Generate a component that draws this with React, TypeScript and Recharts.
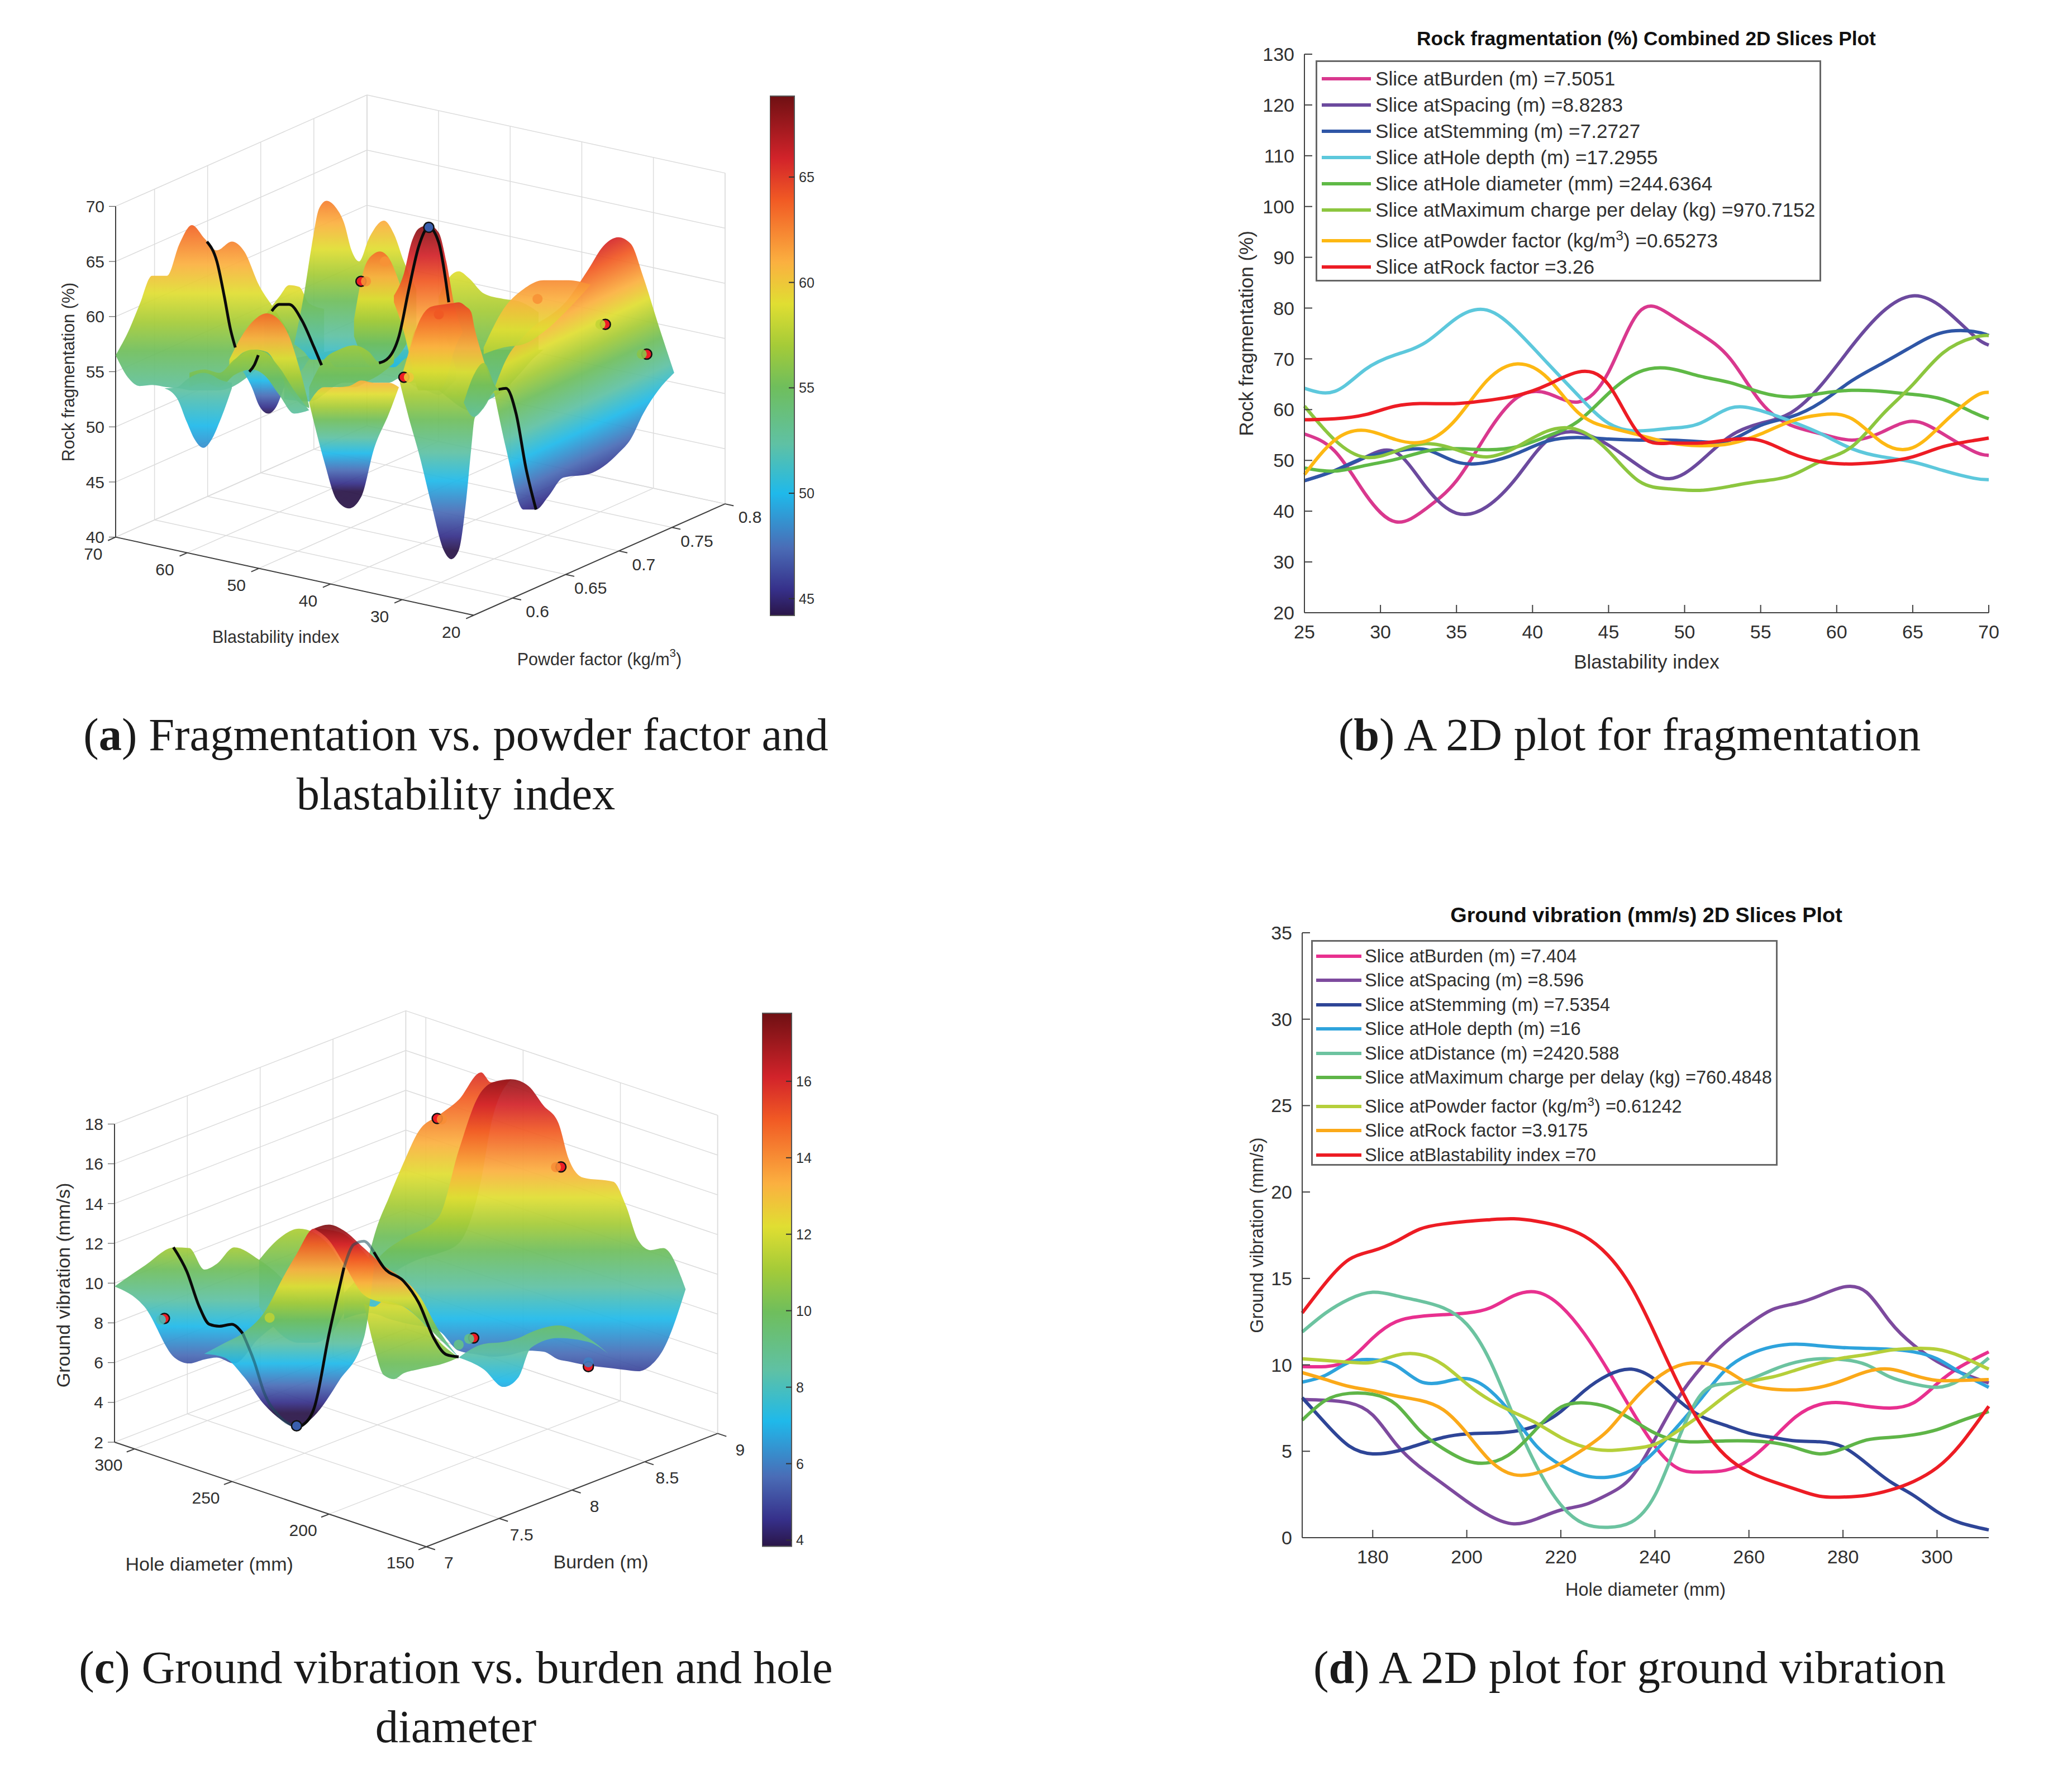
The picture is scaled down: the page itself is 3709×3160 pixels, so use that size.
import { Area, Bar, BarChart, ComposedChart, Legend, Line, LineChart, ReferenceDot, ReferenceLine, Scatter, XAxis, YAxis } from "recharts";

const SANS = '"Liberation Sans", Arial, sans-serif';
const SERIF = '"Liberation Serif", serif';
const AXIS_COLOR = "#404040";
const TEXT_COLOR = "#303030";

// ---- panel b: slices over blastability index ----
const bX = [25, 27, 29, 31, 33, 35, 37, 39, 41, 43, 45, 47, 49, 51, 53, 55, 57, 59, 61, 63, 65, 67, 69, 70];
const bBurden = [55.2, 51.8, 43.4, 37.9, 40.5, 46, 55.2, 62.4, 63.2, 61.5, 67.4, 79.2, 78.8, 75, 70, 61.5, 56.9, 55.2, 54, 55.6, 57.7, 55.2, 51.8, 51];
const bSpacing = [46, 48, 50.6, 51.6, 44.7, 39.6, 40.9, 46.8, 54, 55.5, 53, 48.9, 46.4, 49.7, 54.8, 57.3, 59.4, 64.9, 72.5, 79.2, 82.4, 80, 74.6, 72.7];
const bStemming = [46, 48, 50.6, 51.8, 52.1, 49.7, 49.6, 51.4, 53.8, 54.5, 54.2, 54, 54, 53.7, 54, 56.9, 58.6, 61.5, 65.7, 69.1, 72.5, 75.2, 75.4, 74.6];
const bHoleDepth = [64.2, 63.6, 67.9, 70.8, 73.3, 78, 79.6, 75.4, 69.1, 62.8, 57.3, 55.8, 56.3, 57.3, 60.3, 59.8, 57.7, 55.2, 52.3, 50.7, 49.7, 48, 46.5, 46.2];
const bHoleDiameter = [48.5, 47.9, 49, 50.2, 51.8, 52.3, 52.1, 52.7, 54.8, 57.7, 63.2, 67.4, 68.1, 66.6, 65.3, 63.4, 62.5, 63.2, 63.8, 63.6, 63, 62, 59.4, 58.2];
const bMaxCharge = [60.7, 54, 50.6, 51.8, 53.3, 52.1, 50.7, 52.7, 55.8, 56, 51.8, 45.9, 44.4, 44.1, 44.9, 45.9, 47, 49.9, 52.7, 59, 64.9, 71.2, 74.2, 74.6];
const bPowder = [47.2, 54, 55.9, 54.1, 53.8, 58.2, 65.7, 69, 66.2, 59.4, 56.5, 55, 53.5, 52.9, 53.3, 55.2, 57.7, 59, 58.2, 53.5, 52.5, 57.3, 62.4, 63.4];
const bRock = [58, 58.2, 59, 60.7, 61.2, 61.2, 61.8, 62.8, 64.9, 67.4, 64.9, 55.2, 53.4, 53.4, 54.1, 53.9, 51.4, 49.7, 49.3, 49.7, 50.7, 52.7, 53.9, 54.4];
const bSeries = [
  { name: "Slice atBurden (m) =7.5051", values: bBurden, color: "#D9388E" },
  { name: "Slice atSpacing (m) =8.8283", values: bSpacing, color: "#6C4A9E" },
  { name: "Slice atStemming (m) =7.2727", values: bStemming, color: "#2F56A6" },
  { name: "Slice atHole depth (m) =17.2955", values: bHoleDepth, color: "#5DC8DC" },
  { name: "Slice atHole diameter (mm) =244.6364", values: bHoleDiameter, color: "#5FB946" },
  { name: "Slice atMaximum charge per delay (kg) =970.7152", values: bMaxCharge, color: "#8CC63F" },
  { name: "Slice atPowder factor (kg/m3) =0.65273", values: bPowder, color: "#FDB813" },
  { name: "Slice atRock factor =3.26", values: bRock, color: "#ED1C24" },
];

// ---- panel d: slices over hole diameter ----
const dX = [165, 170, 175, 180, 185, 190, 195, 200, 205, 210, 215, 220, 225, 230, 235, 240, 245, 250, 255, 260, 265, 270, 275, 280, 285, 290, 295, 300, 305, 311];
const dBurden = [9.9, 9.9, 10.3, 11.55, 12.5, 12.8, 12.9, 13, 13.3, 14, 14.2, 13.4, 11.8, 9.7, 7.4, 5.3, 4, 3.8, 3.9, 4.5, 5.7, 7, 7.7, 7.8, 7.6, 7.5, 7.8, 8.9, 9.9, 10.75];
const dSpacing = [8, 7.95, 7.8, 7.1, 5.4, 4.1, 3.1, 2.1, 1.25, 0.8, 1.1, 1.6, 1.9, 2.5, 3.5, 5.7, 8.1, 9.9, 11.3, 12.35, 13.2, 13.55, 14, 14.5, 14.2, 12.5, 11.15, 10.2, 9.55, 8.95];
const dStemming = [8.1, 6.6, 5.3, 4.85, 5, 5.4, 5.8, 6, 6.05, 6.15, 6.5, 7.3, 8.5, 9.4, 9.75, 9.15, 7.95, 7, 6.5, 6.05, 5.8, 5.6, 5.55, 5.25, 4.3, 3.25, 2.45, 1.5, 0.85, 0.45];
const dHoleDepth = [9, 9.4, 10.15, 10.3, 9.95, 9.05, 9, 9.2, 8.5, 7, 5.25, 4.2, 3.6, 3.5, 3.9, 5, 6.5, 8.1, 9.7, 10.6, 11.05, 11.2, 11.1, 11, 10.95, 10.9, 10.75, 10.35, 9.55, 8.7];
const dDistance = [11.9, 13, 13.8, 14.2, 14, 13.7, 13.3, 12.35, 10.2, 7, 4.05, 1.9, 0.8, 0.6, 0.9, 2.45, 5.7, 8.35, 8.9, 9.15, 9.7, 10.15, 10.35, 10.3, 10, 9.3, 8.9, 8.7, 9.15, 10.4];
const dMaxCharge = [6.8, 7.95, 8.35, 8.3, 7.7, 6.2, 5.15, 4.45, 4.35, 5, 6.35, 7.55, 7.8, 7.55, 6.85, 6.05, 5.6, 5.55, 5.6, 5.6, 5.5, 5.2, 4.85, 5.15, 5.65, 5.8, 5.95, 6.25, 6.75, 7.3];
const dPowder = [10.35, 10.25, 10.15, 10.15, 10.55, 10.6, 10, 8.9, 7.95, 7.25, 6.6, 5.8, 5.25, 5.05, 5.15, 5.4, 6.2, 7.15, 8.2, 9, 9.3, 9.7, 10.1, 10.4, 10.6, 10.85, 10.95, 10.9, 10.5, 9.75];
const dRock = [9.55, 9.15, 8.75, 8.5, 8.2, 7.95, 7.4, 6.05, 4.45, 3.65, 3.75, 4.3, 5.15, 6.2, 7.8, 9.15, 9.95, 10.1, 9.7, 8.9, 8.6, 8.55, 8.7, 9.1, 9.6, 9.75, 9.4, 9.1, 9.1, 9.15];
const dBlast = [13, 14.75, 16.1, 16.6, 17.15, 17.85, 18.15, 18.3, 18.4, 18.45, 18.3, 18, 17.45, 16.35, 14.5, 11.8, 8.9, 6.45, 4.75, 3.8, 3.25, 2.8, 2.4, 2.35, 2.45, 2.75, 3.25, 4.05, 5.4, 7.6];
const dSeries = [
  { name: "Slice atBurden (m) =7.404", values: dBurden, color: "#E8308F" },
  { name: "Slice atSpacing (m) =8.596", values: dSpacing, color: "#7D4A9E" },
  { name: "Slice atStemming (m) =7.5354", values: dStemming, color: "#2E4597" },
  { name: "Slice atHole depth (m) =16", values: dHoleDepth, color: "#2EA3DC" },
  { name: "Slice atDistance (m) =2420.588", values: dDistance, color: "#6CC3A0" },
  { name: "Slice atMaximum charge per delay (kg) =760.4848", values: dMaxCharge, color: "#5FB548" },
  { name: "Slice atPowder factor (kg/m3) =0.61242", values: dPowder, color: "#B5CF3A" },
  { name: "Slice atRock factor =3.9175", values: dRock, color: "#FBA919" },
  { name: "Slice atBlastability index =70", values: dBlast, color: "#ED1C24" },
];

// ---- shared colour map (position on the colour bar -> colour) ----
const mapStops: [number, string][] = [
  [0, "#2a1548"], [0.05, "#36308a"], [0.13, "#4a6cb6"], [0.235, "#1fb9ea"], [0.33, "#5fc1a4"], [0.44, "#6fbe5c"],
  [0.52, "#a5cb38"], [0.6, "#e0de32"], [0.68, "#fbb040"], [0.8, "#f15a24"], [0.88, "#d2232a"], [1, "#6f1013"],
];
const HOT = 0.8;
const COLD = 0.235;

function mapColor(f: number) {
  const rgb = (h: string) => [1, 3, 5].map((i) => parseInt(h.slice(i, i + 2), 16));
  for (let i = 1; i < mapStops.length; i++) {
    if (f <= mapStops[i][0]) {
      const t = (f - mapStops[i - 1][0]) / (mapStops[i][0] - mapStops[i - 1][0]);
      const a = rgb(mapStops[i - 1][1]);
      const b = rgb(mapStops[i][1]);
      return `rgb(${a.map((v, k) => Math.round(v + (b[k] - v) * Math.max(t, 0))).join(",")})`;
    }
  }
  return mapStops[mapStops.length - 1][1];
}

// ---- panel a: surface sheets, back to front. x is the view position, heights in axis units ----
const aWallX = [142, 170, 190, 215, 245, 270, 295, 320, 345, 375, 400, 430, 460, 490];
const aWallTop = [56.5, 58.9, 61.1, 63.7, 63.7, 66.6, 68.3, 67.1, 66, 66.8, 65.9, 62.8, 60.7, 58.6];
const aWallBot = [56.5, 54.3, 53.7, 53.8, 53.6, 53.5, 53.3, 53.3, 53.3, 53.6, 54.3, 55.4, 56.8, 58.6];
const aPitX = [395, 415, 430, 448, 465, 480, 497];
const aPitTop = [56.1, 56.8, 57.2, 57.2, 57.2, 56.8, 56.1];
const aPitBot = [55.2, 53.6, 51.9, 51.2, 51.9, 53.6, 55.4];
const aBackX = [480, 530, 600, 690, 712, 730, 800, 862, 890, 905, 1000];
const aBackTop = [56, 56.5, 57, 57, 57, 57, 57, 57, 57, 57, 57];
const aBackBot = [52.5, 52.3, 54, 54, 54.4, 54, 54, 52, 53, 53.5, 57];
const aRidgeX = [440, 470, 490, 510, 530, 560];
const aRidgeTop = [60, 61.8, 62.85, 62.7, 61.2, 60.7];
const aRidgeBot = [56.1, 55.4, 55.4, 55, 56.1, 56.8];
const aTallX = [500, 520, 535, 550, 565, 585, 600, 615, 630, 650, 680, 700, 720, 745];
const aTallTop = [57.5, 62.1, 66.4, 69.8, 70.5, 69.8, 68.5, 66, 65, 67.1, 68.7, 67.5, 65, 62.5];
const aTallBot = [57.5, 56.8, 56.1, 56.1, 56.1, 55.4, 55.4, 55.4, 55.4, 55.4, 55.4, 55.4, 56.1, 56.8];
const aMidX = [790, 810, 830, 850, 880, 920, 950, 990];
const aMidTop = [61.8, 63.5, 64.1, 63.5, 62.1, 61.6, 61.4, 60.4];
const aMidBot = [53.3, 52.6, 51.9, 51.5, 52.2, 53.3, 54.7, 56.8];
const aKnobX = [620, 640, 660, 672, 690, 710, 725];
const aKnobTop = [59.7, 64.3, 65.7, 65.9, 65.3, 63.2, 61.1];
const aKnobBot = [58.2, 56.1, 55.4, 55.4, 55.8, 56.5, 57.5];
const aWaveX = [530, 560, 590, 620, 650, 670, 700];
const aWaveTop = [53.6, 56.1, 57, 57.4, 56.8, 55.9, 56.8];
const aWaveBot = [52.2, 53.6, 53.6, 53.6, 54.2, 54.7, 55.8];
const aDarkX = [700, 720, 735, 750, 770, 790, 805, 820, 838];
const aDarkTop = [61.9, 63.9, 66.7, 68, 68.3, 67.6, 65, 61.3, 58.6];
const aDarkBot = [61.3, 58.6, 55.8, 53.3, 53.3, 53.3, 54.3, 56.8, 58.6];
const aBodyX = [900, 925, 960, 985, 1010, 1040, 1090, 1120, 1150, 1175, 1200, 1230, 1262];
const aBodyTop = [53.3, 56.1, 58.2, 59.3, 60, 61.1, 64.3, 66.4, 67.2, 66.6, 63.6, 59.3, 54.9];
const aBodyBot = [53.3, 48, 42.5, 42.5, 43.7, 45.4, 45.7, 46.4, 47.6, 48.9, 51.2, 53.3, 54.9];
const aFlapX = [880, 920, 960, 1000, 1050, 1095];
const aFlapTop = [57.2, 60.7, 62.5, 63.3, 63.3, 62.9];
const aFlapBot = [56.6, 57.2, 57.5, 58.6, 60.7, 62.9];
const aBowlX = [530, 560, 585, 610, 635, 660, 690, 710];
const aBowlTop = [52.2, 53.6, 53.6, 53.7, 54.2, 54, 54, 53.6];
const aBowlBot = [52.2, 46.9, 43.4, 42.6, 43.7, 48, 51.2, 53.6];
const aFrontX = [712, 730, 750, 775, 800, 815, 830, 845, 855, 862, 875, 890, 905];
const aFrontTop = [54, 56.8, 59.5, 60.9, 61.1, 61.2, 61.3, 60.9, 60.4, 58.9, 56.8, 54.7, 53.3];
const aFrontBot = [54, 50.8, 47.6, 43, 38.8, 38, 38.8, 43.4, 48, 50.8, 51.5, 52.6, 53.3];
const aGhostX = [720, 745, 765, 790, 810, 825];
const aGhostTop = [54.7, 58.9, 59.3, 59.3, 57.5, 55.1];
const aGhostBot = [54.3, 53.6, 53.3, 52.9, 53.6, 54.3];
const aWedgeX = [840, 860, 880, 905, 915];
const aWedgeTop = [52.2, 54.7, 55.8, 53.6, 53.3];
const aWedgeBot = [52.2, 50.9, 51.7, 53.3, 53.3];
const aCrestX = [370, 400, 420, 445, 470, 490, 510, 530];
const aCrestTop = [56.1, 58.6, 59.7, 60.3, 59.7, 58.2, 55.4, 51.9];
const aCrestBot = [55.4, 56.8, 57, 56.8, 55.1, 53.3, 52.2, 51.7];
const aBandX = [290, 320, 350, 380, 415, 440, 470, 500, 530];
const aBandTop = [54.9, 55.2, 54.9, 56.1, 57, 56.8, 55.4, 53.3, 51.5];
const aBandBot = [53.6, 54, 53.6, 54.7, 55.2, 54.7, 52.9, 51.2, 51.5];
const aSagX = [240, 265, 285, 300, 318, 335, 350, 375];
const aSagTop = [53.5, 53.6, 54.3, 54.7, 54.9, 54.7, 54.3, 54];
const aSagBot = [53.5, 52.6, 50.4, 48.9, 48.1, 48.9, 50.4, 53.5];

const aSheets = [
  { x: aWallX, top: aWallTop, bot: aWallBot, hot: 68.7, cold: 50.1 },
  { x: aPitX, top: aPitTop, bot: aPitBot, hot: 61.6, cold: 54.2 },
  { x: aBackX, top: aBackTop, bot: aBackBot, hot: 68, cold: 50 },
  { x: aRidgeX, top: aRidgeTop, bot: aRidgeBot, hot: 68, cold: 52 },
  { x: aTallX, top: aTallTop, bot: aTallBot, hot: 72, cold: 55.4 },
  { x: aMidX, top: aMidTop, bot: aMidBot, hot: 72.8, cold: 48 },
  { x: aKnobX, top: aKnobTop, bot: aKnobBot, hot: 66.6, cold: 52.4 },
  { x: aWaveX, top: aWaveTop, bot: aWaveBot, hot: 67.5, cold: 47.4 },
  { x: aDarkX, top: aDarkTop, bot: aDarkBot, hot: 63.2, cold: 46.7 },
  { x: aBodyX, top: aBodyTop, bot: aBodyBot, hot: 64, cold: 49.7, tilt: -0.46 },
  { x: aFlapX, top: aFlapTop, bot: aFlapBot, hot: 65.7, cold: 46.2 },
  { x: aBowlX, top: aBowlTop, bot: aBowlBot, hot: 55.9, cold: 47.6 },
  { x: aFrontX, top: aFrontTop, bot: aFrontBot, hot: 60.4, cold: 45.1 },
  { x: aGhostX, top: aGhostTop, bot: aGhostBot, hot: 60.4, cold: 46.2, opacity: 0.35 },
  { x: aWedgeX, top: aWedgeTop, bot: aWedgeBot, hot: 63.9, cold: 48 },
  { x: aCrestX, top: aCrestTop, bot: aCrestBot, hot: 60.7, cold: 48 },
  { x: aBandX, top: aBandTop, bot: aBandBot, hot: 65, cold: 48.3 },
  { x: aSagX, top: aSagTop, bot: aSagBot, hot: 68.7, cold: 50.1 },
];
const aSliceX = [[325, 345, 360, 372, 382], [410, 420, 428], [455, 470, 490, 515, 540, 555], [670, 690, 710, 730, 750, 770, 790, 810], [910, 925, 945, 965, 985]];
const aSliceY = [[66.8, 65, 61.8, 58.9, 57.2], [55, 55.6, 56.5], [60.5, 61.1, 61.1, 59.7, 57.2, 55.6], [55.8, 56.3, 58.2, 62.5, 66.4, 68.1, 66.7, 61.3], [53.4, 53.5, 51.2, 46.2, 42.5]];
const aRedDots = [{ x: 634, y: 63.2 }, { x: 720, y: 54.5 }, { x: 1124, y: 59.3 }, { x: 1207, y: 56.6 }];
const aBlueDots = [{ x: 770, y: 68.1 }];
const aBuriedDots = [{ x: 644, y: 63.2, c: 62 }, { x: 730, y: 54.5, c: 60 }, { x: 1114, y: 59.3, c: 58 }, { x: 1197, y: 56.6, c: 56 }, { x: 682, y: 65, c: 62 }, { x: 790, y: 60.2, c: 64 }, { x: 988, y: 61.6, c: 62 }];

const aBlastTicks = [70, 60, 50, 40, 30, 20];
const aPowderTicks = [0.6, 0.65, 0.7, 0.75, 0.8];
const aHeightTicks = [40, 45, 50, 55, 60, 65, 70];
const aBarTicks = [45, 50, 55, 60, 65];

// ---- panel c: same idea ----
const cLeftX = [140, 200, 260, 290, 320, 345, 380, 430, 470, 520];
const cLeftTop = [9.83, 10.87, 11.8, 11.76, 10.68, 10.97, 11.8, 11.17, 10.38, 8.81];
const cLeftBot = [9.83, 8.81, 6.26, 5.96, 6.16, 6.26, 5.96, 7.24, 8.02, 8.81];
const cHumpX = [430, 470, 510, 540, 575, 600];
const cHumpTop = [11.17, 12.25, 12.74, 12.54, 11.76, 10.78];
const cHumpBot = [8.81, 7.5, 7, 7, 7.5, 8.5];
const cRimX = [640, 665, 690, 720, 750, 790, 830, 875, 895, 935];
const cRimTop = [10.38, 12.74, 14.3, 16.08, 17.65, 18.44, 19.22, 20.6, 20.1, 20.25];
const cRimBot = [10.38, 10.2, 10.4, 10.85, 11.2, 11.5, 12, 15.2, 18, 20.25];
const cMountX = [600, 650, 670, 690, 720, 790, 830, 870, 900, 935, 970, 1000, 1030, 1050, 1080, 1140, 1165, 1190, 1215, 1240, 1285];
const cMountTop = [9.5, 10.8, 11.3, 11.76, 12.25, 13.33, 16.67, 19.42, 20.11, 20.25, 19.91, 18.93, 18.05, 16.28, 15.3, 15.1, 13.92, 12.15, 11.66, 11.76, 9.69];
const cMountBot = [8.2, 8.5, 8.4, 8.2, 8, 7.6, 6.6, 6.4, 6.3, 6.4, 6.6, 6.55, 6.16, 6.06, 5.9, 5.71, 5.63, 5.57, 5.86, 6.65, 9.69];
const cDropX = [640, 660, 680, 700, 720, 750, 800, 830];
const cDropTop = [8.97, 8.81, 9.1, 9, 8.81, 8.22, 6.85, 6.26];
const cDropBot = [8.97, 6.85, 5.37, 5.17, 5.47, 5.67, 5.96, 6.26];
const cLowX = [830, 880, 920, 950, 975, 1030, 1090, 1130];
const cLowTop = [6.26, 6.94, 7.04, 7.24, 7.53, 7.87, 7.24, 6.45];
const cLowBot = [6.26, 5.67, 4.78, 5.27, 6.75, 7.24, 7.04, 6.45];
const cMidX = [320, 360, 400, 440, 480, 505, 540, 590, 640, 660];
const cMidTop = [6.45, 6.98, 7.53, 8.52, 10.38, 11.46, 12.74, 12.58, 11.56, 10.97];
const cMidBot = [6.45, 6.26, 5.27, 3.9, 3.02, 2.72, 3.31, 5.08, 7.24, 10.78];
const cFoldX = [540, 570, 600, 640, 680, 720, 750, 790, 830];
const cFoldTop = [12.74, 12.94, 12.64, 11.76, 10.87, 10.18, 9.4, 7.63, 6.26];
const cFoldBot = [12.74, 12.15, 10.97, 9.4, 9, 8.81, 8.22, 7.24, 6.26];

const cSheets = [
  { x: cLeftX, top: cLeftTop, bot: cLeftBot, hot: 15.7, cold: 7.83 },
  { x: cHumpX, top: cHumpTop, bot: cHumpBot, hot: 18, cold: 6.85 },
  { x: cRimX, top: cRimTop, bot: cRimBot, hot: 19.4, cold: 8.3 },
  { x: cMountX, top: cMountTop, bot: cMountBot, hot: 17.65, cold: 8.2 },
  { x: cDropX, top: cDropTop, bot: cDropBot, hot: 12.35, cold: 2.33 },
  { x: cLowX, top: cLowTop, bot: cLowBot, hot: 13.7, cold: 5.08 },
  { x: cMidX, top: cMidTop, bot: cMidBot, hot: 11.95, cold: 5.96 },
  { x: cFoldX, top: cFoldTop, bot: cFoldBot, hot: 11.17, cold: 5.67 },
];
const cSliceX = [[258, 285, 310, 330, 350, 375, 397], [515, 540, 570, 600], [660, 680, 720, 750, 780, 805, 830]];
const cSliceY = [[11.8, 10.58, 8.81, 7.93, 7.83, 7.93, 7.47], [2.82, 3.7, 7.43, 10.78], [11.56, 10.78, 10.09, 9.01, 7.24, 6.41, 6.29]];
const cFadedX = [[397, 420, 440, 470, 505], [600, 620, 640, 660]];
const cFadedY = [[7.47, 6.06, 4.49, 3.31, 2.76], [10.78, 11.95, 12.11, 11.56]];
const cRedDots = [{ x: 240, y: 8.22 }, { x: 787, y: 18.28 }, { x: 1035, y: 15.84 }, { x: 860, y: 7.24 }, { x: 1090, y: 5.8 }];
const cBlueDots = [{ x: 505, y: 2.82 }];
const cBuriedDots = [{ x: 233, y: 8.16, c: 8 }, { x: 451, y: 8.26, c: 11.5 }, { x: 796, y: 18.24, c: 14 }, { x: 1025, y: 15.83, c: 14 }, { x: 851, y: 7.2, c: 9 }, { x: 830, y: 6.9, c: 9 }, { x: 1090, y: 6.02, c: 6 }];

const cDiameterTicks = [300, 250, 200, 150];
const cBurdenTicks = [7, 7.5, 8, 8.5, 9];
const cHeightTicks = [2, 4, 6, 8, 10, 12, 14, 16, 18];
const cBarTicks = [4, 6, 8, 10, 12, 14, 16];

const panelA = {
  id: "a", left: 80, top: 140, width: 1400, height: 1100, axisWidth: 127,
  xDomain: [142, 1568], yDomain: [25.9, 81.62], viewPerY: 28.23,
  sheets: aSheets, sliceX: aSliceX, sliceY: aSliceY, fadedX: [], fadedY: [],
  redDots: aRedDots, blueDots: aBlueDots, buriedDots: aBuriedDots,
  ticks1: aBlastTicks, ticks2: aPowderTicks, heightTicks: aHeightTicks,
  edge1: [70, 20], edge2: [0.5634, 0.8], floor: 40, roof: 70,
  project: (p: number, q: number, z: number) => ({
    x: 142 + (70 - p) * 14.36 + (q - 0.5634) * 2130,
    y: z - (70 - p) * 0.1417 + (q - 0.5634) * 42.69,
  }),
  tick1Len: 1.2, tick2Len: 0.0072,
  label1Offset: [-45, 43], label2Offset: [50, 34],
  format2: (q: number) => String(q),
  yTitle: "Rock fragmentation (%)", yTitleOffset: 42, yTitleDy: -24, yTitleSize: 30.5, titleSize: 30.5,
  titles: [
    { x: 463, y: 30.97, text: "Blastability index" },
    { x: 1112, y: 28.95, text: "Powder factor (kg/m^3)" },
  ],
  barLeft: 1378, barTop: 171.5, barWidth: 44, barHeight: 930, barDomain: [44.2, 68.84], barTicks: aBarTicks,
};

const panelC = {
  id: "c", left: 80, top: 1780, width: 1400, height: 1100, axisWidth: 125,
  xDomain: [140, 1568], yDomain: [-6.37, 24.53], viewPerY: 50.9,
  sheets: cSheets, sliceX: cSliceX, sliceY: cSliceY, fadedX: cFadedX, fadedY: cFadedY,
  redDots: cRedDots, blueDots: cBlueDots, buriedDots: cBuriedDots,
  ticks1: cDiameterTicks, ticks2: cBurdenTicks, heightTicks: cHeightTicks,
  edge1: [310.3, 150], edge2: [7, 9], floor: 2, roof: 18,
  project: (p: number, q: number, z: number) => ({
    x: 140 + (310.3 - p) * 3.9 + (q - 7) * 292,
    y: z - (310.3 - p) * 0.0328 + (q - 7) * 2.849,
  }),
  tick1Len: 4.5, tick2Len: 0.054,
  label1Offset: [-52, 41], label2Offset: [45, 41],
  format2: (q: number) => String(q),
  yTitle: "Ground vibration (mm/s)", yTitleOffset: 33, yTitleDy: -29, yTitleSize: 34, titleSize: 34,
  titles: [
    { x: 330, y: -4.12, text: "Hole diameter (mm)" },
    { x: 1115, y: -4.02, text: "Burden (m)" },
  ],
  barLeft: 1364, barTop: 1813.6, barWidth: 53, barHeight: 954.4, barDomain: [3.84, 17.78], barTicks: cBarTicks,
};

const captions = [
  { letter: "a", lines: ["Fragmentation vs. powder factor and", "blastability index"], cx: 816, y: 1315 },
  { letter: "b", lines: ["A 2D plot for fragmentation"], cx: 2917, y: 1315 },
  { letter: "c", lines: ["Ground vibration vs. burden and hole", "diameter"], cx: 816, y: 2985 },
  { letter: "d", lines: ["A 2D plot for ground vibration"], cx: 2917, y: 2985 },
];

function SupText({ text }: { text: string }) {
  const parts = text.split("m3");
  if (parts.length < 2) return <>{text}</>;
  return (
    <>
      {parts[0]}m<sup style={{ fontSize: "0.7em", lineHeight: 0 }}>3</sup>
      {parts[1]}
    </>
  );
}

function SliceLegend({ box, rows, sample }: any) {
  return (payload: any) => (
    <div style={{ width: box.width, height: box.height, boxSizing: "border-box", border: "3px solid #666", background: "#fff", paddingTop: rows.pad }}>
      {payload.payload.map((item: any) => (
        <div key={item.value} style={{ display: "flex", alignItems: "center", height: rows.height, marginTop: item.value.includes("m3") ? rows.extra : 0, fontSize: rows.font, color: TEXT_COLOR, whiteSpace: "nowrap" }}>
          <span style={{ width: sample.width, height: 6, background: item.color, margin: `0 ${sample.gap}px 0 ${sample.left}px`, flex: "none" }} />
          <span><SupText text={item.value} /></span>
        </div>
      ))}
    </div>
  );
}

function SlicePlot({ cfg }: any) {
  const table = cfg.xs.map((x: number, i: number) => {
    const row: any = { x };
    cfg.series.forEach((s: any) => { row[s.name] = s.values[i]; });
    return row;
  });
  const inward = -14;
  return (
    <div style={{ position: "absolute", left: cfg.left, top: cfg.top }}>
      <LineChart width={cfg.width} height={cfg.height} data={table} margin={cfg.margin}>
        <text x={cfg.titleX} y={cfg.titleY} textAnchor="middle" fontWeight="bold" fontSize={cfg.titleSize} fill="#111">{cfg.title}</text>
        <XAxis dataKey="x" type="number" domain={cfg.xDomain} ticks={cfg.xTicks} stroke={AXIS_COLOR} strokeWidth={2} tickSize={inward} tickMargin={36} height={120} tick={{ fontSize: cfg.tickSize, fill: TEXT_COLOR }} label={{ value: cfg.xLabel, position: "insideBottom", offset: cfg.xLabelOffset, fontSize: cfg.labelSize, fill: TEXT_COLOR }} />
        <YAxis type="number" domain={cfg.yDomain} ticks={cfg.yTicks} stroke={AXIS_COLOR} strokeWidth={2} tickSize={inward} tickMargin={32} width={cfg.axisWidth} interval={0} tick={{ fontSize: cfg.tickSize, fill: TEXT_COLOR }} label={{ value: cfg.yLabel, angle: -90, position: "insideLeft", offset: cfg.yLabelOffset, fontSize: cfg.labelSize, fill: TEXT_COLOR, style: { textAnchor: "middle" } }} />
        {cfg.series.map((s: any) => (
          <Line key={s.name} dataKey={s.name} name={s.name} type="natural" stroke={s.color} strokeWidth={6} dot={false} isAnimationActive={false} />
        ))}
        <Legend layout="horizontal" verticalAlign="middle" itemSorter={null} wrapperStyle={{ left: cfg.box.left, top: cfg.box.top, width: cfg.box.width, height: cfg.box.height, margin: 0 }} content={SliceLegend(cfg)} />
      </LineChart>
    </div>
  );
}

function ColorBar({ p }: any) {
  const id = `bar-${p.id}`;
  const axisWidth = 70;
  const pad = 20;
  return (
    <div style={{ position: "absolute", left: p.barLeft, top: p.barTop - pad }}>
      <BarChart width={p.barWidth + axisWidth} height={p.barHeight + 2 * pad} data={[{ name: "scale", span: p.barDomain }]} margin={{ top: pad, right: 0, bottom: pad, left: 0 }} barCategoryGap={0}>
        <defs>
          <linearGradient id={id} x1="0" y1="1" x2="0" y2="0">
            {mapStops.map(([f, c]) => <stop key={f} offset={f} stopColor={c} />)}
          </linearGradient>
        </defs>
        <XAxis dataKey="name" hide />
        <YAxis orientation="right" type="number" domain={p.barDomain} ticks={p.barTicks} width={axisWidth} axisLine={false} tickLine={false} tickSize={0} tickMargin={8} interval={0}
          tick={({ x, y, payload }: any) => (
            <g>
              <line x1={x - 18} x2={x - 8} y1={y} y2={y} stroke="#333" strokeWidth={2} />
              <text x={x} y={y + 9} fontSize={25} fill={TEXT_COLOR}>{payload.value}</text>
            </g>
          )} />
        <Bar dataKey="span" fill={`url(#${id})`} stroke="#555" strokeWidth={2} isAnimationActive={false} />
      </BarChart>
    </div>
  );
}

function viewLabel(d: any, text: string, size: number) {
  const [head, tail] = text.split("^");
  return (
    <text x={d.cx} y={d.cy} textAnchor="middle" dominantBaseline="central" fontSize={size} fill={TEXT_COLOR}>
      {tail ? (
        <>
          {head}
          <tspan dy={-11} fontSize={size * 0.67}>{tail[0]}</tspan>
          <tspan dy={11}>{tail.slice(1)}</tspan>
        </>
      ) : head}
    </text>
  );
}

function Surface({ p }: any) {
  const [uMin, uMax] = p.xDomain;
  const [zMin, zMax] = p.yDomain;
  const plotW = p.width - p.axisWidth;
  const px = (u: number) => p.axisWidth + ((u - uMin) / (uMax - uMin)) * plotW;
  const py = (z: number) => ((zMax - z) / (zMax - zMin)) * p.height;
  const seg = (a: any, b: any) => [a, b];
  const { project: pr, edge1: [p0, p1], edge2: [q0, q1], floor, roof } = p;

  const grid: any[] = [];
  p.ticks1.forEach((t: number) => {
    grid.push(seg(pr(t, q0, floor), pr(t, q1, floor)));
    grid.push(seg(pr(t, q1, floor), pr(t, q1, roof)));
  });
  p.ticks2.forEach((t: number) => {
    grid.push(seg(pr(p0, t, floor), pr(p1, t, floor)));
    grid.push(seg(pr(p0, t, floor), pr(p0, t, roof)));
  });
  p.heightTicks.forEach((z: number) => {
    grid.push(seg(pr(p0, q0, z), pr(p0, q1, z)));
    grid.push(seg(pr(p0, q1, z), pr(p1, q1, z)));
  });
  grid.push(seg(pr(p0, q1, floor), pr(p0, q1, roof)));
  grid.push(seg(pr(p1, q1, floor), pr(p1, q1, roof)));

  const frame = [
    seg(pr(p0, q0, floor), pr(p1, q0, floor)),
    seg(pr(p1, q0, floor), pr(p1, q1, floor)),
    seg(pr(p0, q0, floor), pr(p0, q0, roof)),
  ];
  const tickMarks = [
    ...p.ticks1.map((t: number) => seg(pr(t, q0, floor), pr(t, q0 - p.tick2Len, floor))),
    ...p.ticks2.map((t: number) => seg(pr(p1, t, floor), pr(p1 - p.tick1Len, t, floor))),
  ];
  const shift = (pt: any, off: number[]) => ({ x: pt.x + off[0], y: pt.y - off[1] / p.viewPerY });
  const labels = [
    ...p.ticks1.map((t: number) => ({ ...shift(pr(t, q0, floor), p.label1Offset), text: String(t), size: 30 })),
    ...p.ticks2.map((t: number) => ({ ...shift(pr(p1, t, floor), p.label2Offset), text: p.format2(t), size: 30 })),
    ...p.titles.map((t: any) => ({ ...t, size: p.titleSize })),
  ];

  const gradientFor = (s: any, i: number) => {
    const xc = px((s.x[0] + s.x[s.x.length - 1]) / 2);
    const yHot = py(s.hot);
    const yCold = py(s.cold);
    const perF = (yHot - yCold) / (HOT - COLD);
    const y0 = yCold - COLD * perF;
    const tilt = s.tilt ?? 0;
    const k = 1 / (1 + tilt * tilt);
    return (
      <linearGradient key={i} id={`${p.id}-sheet-${i}`} gradientUnits="userSpaceOnUse" x1={xc} y1={y0} x2={xc - tilt * perF * k} y2={y0 + perF * k}>
        {mapStops.map(([f, c]) => <stop key={f} offset={f} stopColor={c} />)}
      </linearGradient>
    );
  };

  const circle = (r: number, stroke: string, fill: string, opacity = 1) => (d: any) =>
    <circle cx={d.cx} cy={d.cy} r={r} fill={d.payload.c != null ? mapColor((d.payload.c - p.barDomain[0]) / (p.barDomain[1] - p.barDomain[0])) : fill} stroke={stroke} strokeWidth={2.5} fillOpacity={opacity} />;

  return (
    <div style={{ position: "absolute", left: p.left, top: p.top }}>
      <ComposedChart width={p.width} height={p.height} margin={{ top: 0, right: 0, bottom: 0, left: 0 }}>
        <defs>{p.sheets.map(gradientFor)}</defs>
        <XAxis dataKey="x" type="number" domain={p.xDomain} hide />
        <YAxis dataKey="y" type="number" domain={p.yDomain} ticks={p.heightTicks} width={p.axisWidth} axisLine={false} stroke={AXIS_COLOR} tickSize={12} tickMargin={8} interval={0} tick={{ fontSize: 30, fill: TEXT_COLOR }}
          label={{ value: p.yTitle, angle: -90, position: "insideLeft", offset: p.yTitleOffset, dy: p.yTitleDy, fontSize: p.yTitleSize, fill: TEXT_COLOR, style: { textAnchor: "middle" } }} />
        {grid.map((g, i) => (
          <Line key={`g${i}`} data={g} dataKey="y" type="linear" stroke="#dcdcdc" strokeWidth={1.5} dot={false} isAnimationActive={false} zIndex={50} />
        ))}
        {frame.map((g, i) => (
          <Line key={`f${i}`} data={g} dataKey="y" type="linear" stroke={AXIS_COLOR} strokeWidth={2} dot={false} isAnimationActive={false} zIndex={50} />
        ))}
        {tickMarks.map((g, i) => (
          <ReferenceLine key={`t${i}`} segment={g} ifOverflow="visible" stroke={AXIS_COLOR} strokeWidth={2} />
        ))}
        {p.sheets.map((s: any, i: number) => (
          <Area key={`s${i}`} data={s.x.map((x: number, k: number) => ({ x, top: s.top[k], bot: s.bot[k] }))} dataKey={(d: any) => [d.bot, d.top]} type="monotone" stroke="none" fill={`url(#${p.id}-sheet-${i})`} fillOpacity={s.opacity ?? 0.93} dot={false} activeDot={false} isAnimationActive={false} />
        ))}
        <Scatter data={p.redDots} dataKey="y" shape={circle(9, "#111", "#ee1c25")} isAnimationActive={false} />
        <Scatter data={p.blueDots} dataKey="y" shape={circle(9, "#111", "#3a5fae")} isAnimationActive={false} />
        <Scatter data={p.buriedDots} dataKey="y" shape={circle(9, "none", "#888", 0.9)} isAnimationActive={false} />
        {p.sliceX.map((xs: number[], i: number) => (
          <Line key={`l${i}`} data={xs.map((x, k) => ({ x, y: p.sliceY[i][k] }))} dataKey="y" type="monotone" stroke="#0a0a0a" strokeWidth={5} dot={false} isAnimationActive={false} />
        ))}
        {p.fadedX.map((xs: number[], i: number) => (
          <Line key={`d${i}`} data={xs.map((x, k) => ({ x, y: p.fadedY[i][k] }))} dataKey="y" type="monotone" stroke="#1c4a5a" strokeOpacity={0.55} strokeWidth={5} dot={false} isAnimationActive={false} />
        ))}
        {labels.map((l: any) => (
          <ReferenceDot key={l.text} x={l.x} y={l.y} ifOverflow="visible" shape={(d: any) => viewLabel(d, l.text, l.size)} />
        ))}
      </ComposedChart>
    </div>
  );
}

const plotB = {
  left: 2180, top: 30, width: 1529, height: 1190,
  margin: { top: 67, right: 149, bottom: 3, left: 0 },
  axisWidth: 155, xs: bX, series: bSeries, xDomain: [25, 70], yDomain: [20, 130],
  xTicks: [25, 30, 35, 40, 45, 50, 55, 60, 65, 70], yTicks: [20, 30, 40, 50, 60, 70, 80, 90, 100, 110, 120, 130],
  title: "Rock fragmentation (%) Combined 2D Slices Plot", titleX: 767, titleY: 51, titleSize: 35.3,
  xLabel: "Blastability index", yLabel: "Rock fragmentation (%)", tickSize: 34, labelSize: 35, xLabelOffset: 20, yLabelOffset: 51,
  box: { left: 175, top: 78, width: 905, height: 396 },
  rows: { pad: 6, height: 47, extra: 8, font: 35.2 }, sample: { width: 88, gap: 8, left: 8 },
};

const plotD = {
  left: 2180, top: 1600, width: 1529, height: 1276,
  margin: { top: 70, right: 149, bottom: 3, left: 0 },
  axisWidth: 151, xs: dX, series: dSeries, xDomain: [165, 311], yDomain: [0, 35],
  xTicks: [180, 200, 220, 240, 260, 280, 300], yTicks: [0, 5, 10, 15, 20, 25, 30, 35],
  title: "Ground vibration (mm/s) 2D Slices Plot", titleX: 767, titleY: 51, titleSize: 37.8,
  xLabel: "Hole diameter (mm)", yLabel: "Ground vibration (mm/s)", tickSize: 34, labelSize: 32.5, xLabelOffset: 16, yLabelOffset: 69,
  box: { left: 167, top: 83, width: 835, height: 404 },
  rows: { pad: 4, height: 43.5, extra: 8, font: 32.6 }, sample: { width: 81, gap: 6, left: 6 },
};

export default function App() {
  return (
    <div style={{ position: "absolute", left: 0, top: 0, width: 3709, height: 3160, background: "#fff", fontFamily: SANS, overflow: "hidden" }}>
      <Surface p={panelA} />
      <ColorBar p={panelA} />
      <SlicePlot cfg={plotB} />
      <Surface p={panelC} />
      <ColorBar p={panelC} />
      <SlicePlot cfg={plotD} />
      {captions.map((c) => (
        <div key={c.letter} style={{ position: "absolute", left: c.cx - 750, top: c.y - 53, width: 1500, textAlign: "center", fontFamily: SERIF, fontSize: 82.5, lineHeight: "106px", color: "#1a1a1a" }}>
          (<b>{c.letter}</b>) {c.lines[0]}
          {c.lines[1] ? <><br />{c.lines[1]}</> : null}
        </div>
      ))}
    </div>
  );
}
